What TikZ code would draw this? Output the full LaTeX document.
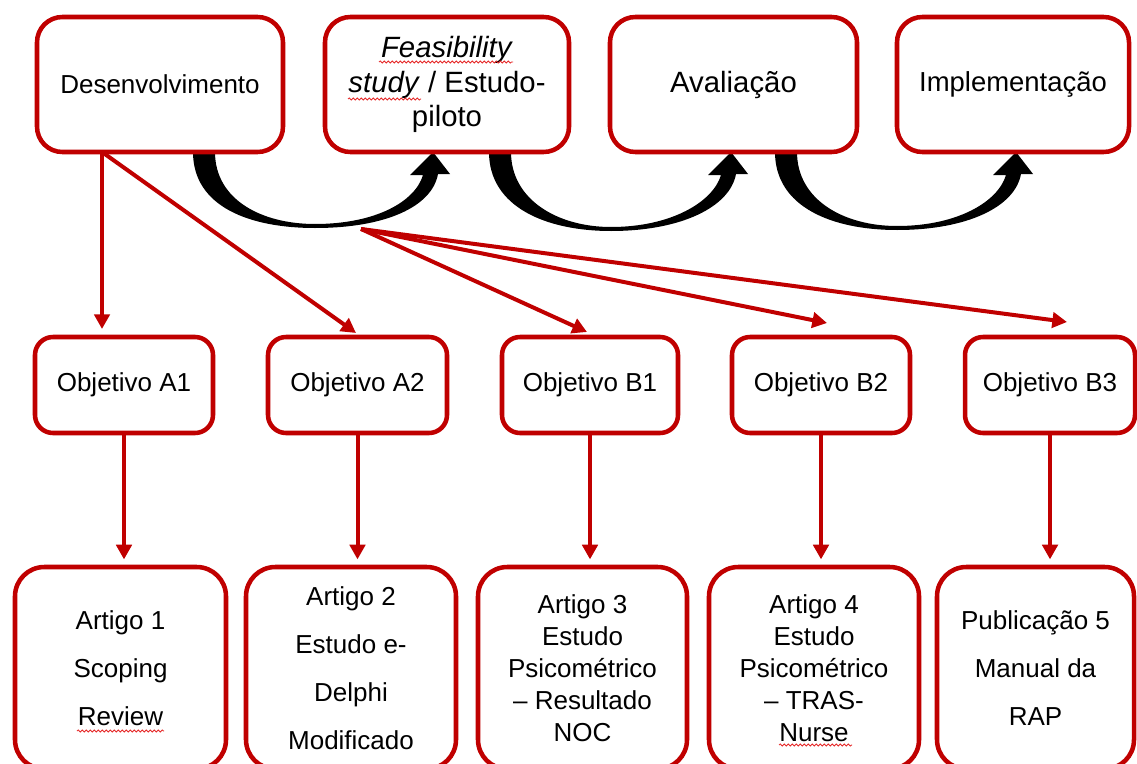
\documentclass[tikz,border=0pt]{standalone}
\usepackage{fontspec}
\setmainfont{Liberation Sans}
\usetikzlibrary{arrows.meta,decorations.pathmorphing,calc}
\definecolor{boxred}{RGB}{192,0,0}
\definecolor{spellred}{RGB}{230,40,40}
\newcommand\fsa{\fontsize{19.5pt}{24pt}\selectfont}
\newcommand\fsb{\fontsize{19.5pt}{36pt}\selectfont}
\newcommand\curvearrow[3]{%
  \fill[black] (#1,152) .. controls (#1,207) and ({#1+57},#3) .. ({#1+122},#3)
    .. controls ({#1+192},#3) and ({#2-1},207) .. ({#2+5},174)
    -- ({#2+17},174) -- (#2,152) -- ({#2-23},175) -- ({#2-10},175)
    .. controls ({#2-18},202) and ({#1+182},{#3-4}) .. ({#1+122},{#3-4})
    .. controls ({#1+69},{#3-4}) and ({#1+22},200) .. ({#1+22},152) -- cycle;}
\tikzset{
  box/.style={draw=boxred, line width=3.4pt, fill=white, align=center, inner sep=0pt, text=black},
  topbox/.style={box, rounded corners=19pt, minimum height=101.25pt},
  objbox/.style={box, rounded corners=13.5pt, minimum height=72pt, font=\fsa},
  artbox/.style={box, rounded corners=22pt, minimum height=151.5pt},
  redarrow/.style={draw=boxred, line width=3pt, -{Triangle[length=11pt,width=11.5pt]}},
  spell/.style={draw=spellred, line width=0.6pt, decorate, decoration={snake, segment length=3pt, amplitude=0.8pt}}
}
\begin{document}
\begin{tikzpicture}[x=0.75pt,y=-0.75pt]
\useasboundingbox (0,0) rectangle (1137,763);
\clip (0,0) rectangle (1137,763);
\fill[white] (0,0) rectangle (1137,763);
% black curved arrows
\curvearrow{193}{433}{228}
\curvearrow{489}{731}{231}
\curvearrow{775}{1016}{230}
% top row
\node[topbox, minimum width=184.5pt, font=\fontsize{19.5pt}{24pt}\selectfont] (dev) at (160,84.5) {Desenvolvimento};
\node[topbox, minimum width=183pt, font=\fontsize{22pt}{26pt}\selectfont] (feas) at (447,84.5) {\textit{Feasibility}\\\textit{study} / Estudo-\\piloto};
\node[topbox, minimum width=185.25pt, font=\fontsize{22pt}{26pt}\selectfont] (aval) at (733.5,84.5) {Avaliação};
\node[topbox, minimum width=174pt, font=\fontsize{20.6pt}{24pt}\selectfont] (impl) at (1013,84.5) {Implementação};
% objectives
\node[objbox, minimum width=133.5pt] (a1) at (124,385) {Objetivo A1};
\node[objbox, minimum width=134.25pt] (a2) at (357.5,385) {Objetivo A2};
\node[objbox, minimum width=132pt] (b1) at (590,385) {Objetivo B1};
\node[objbox, minimum width=133.5pt] (b2) at (821,385) {Objetivo B2};
\node[objbox, minimum width=127.5pt] (b3) at (1050,385) {Objetivo B3};
% articles
\node[artbox, minimum width=158.25pt, font=\fsb] (art1) at (120.5,668) {Artigo 1\\Scoping\\Review};
\node[artbox, minimum width=157.5pt, font=\fsb] (art2) at (351,668) {Artigo 2\\Estudo e-\\Delphi\\Modificado};
\node[artbox, minimum width=156.75pt, font=\fsa] (art3) at (582.5,668) {Artigo 3\\Estudo\\Psicométrico\\– Resultado\\NOC};
\node[artbox, minimum width=157.5pt, font=\fsa] (art4) at (814,668) {Artigo 4\\Estudo\\Psicométrico\\– TRAS-\\Nurse};
\node[artbox, minimum width=147.75pt, font=\fsb] (pub5) at (1035.5,668) {Publicação 5\\Manual da\\RAP};
% red connectors
\coordinate (d0) at (102,152);
\coordinate (fan) at (361,229);
\coordinate (ta1) at (102,329);
\coordinate (ta2) at (356,333);
\coordinate (tb1) at (587,332);
\coordinate (tb2) at (827,323);
\coordinate (tb3) at (1067,322);
\draw[redarrow] (d0) -- (ta1);
\draw[redarrow] (d0) -- (ta2);
\draw[redarrow] (fan) -- (tb1);
\draw[redarrow] (fan) -- (tb2);
\draw[redarrow] (fan) -- (tb3);
\foreach \o/\a in {a1/art1,a2/art2,b1/art3,b2/art4,b3/pub5}
  \draw[redarrow, shorten >=4pt] (\o.south) -- (\o.south |- \a.north);
% spell-check underlines
\draw[spell] (379,62) -- (513,62);
\draw[spell] (348,99) -- (421,99);
\draw[spell] (77,731) -- (164,731);
\draw[spell] (779,745) -- (852,745);
\end{tikzpicture}
\end{document}
